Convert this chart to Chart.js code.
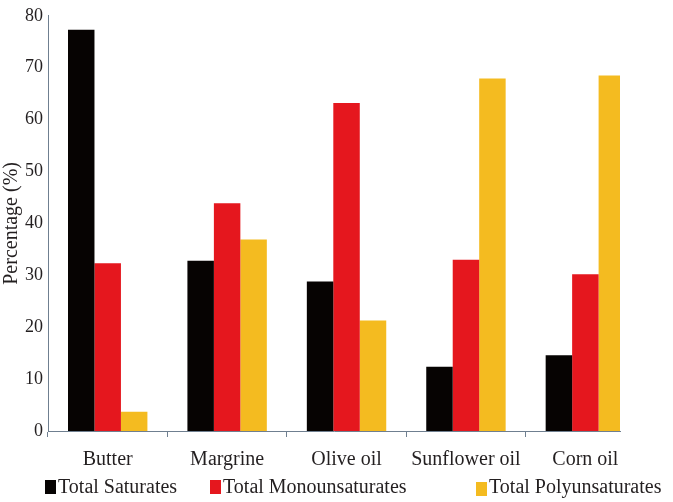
<!DOCTYPE html>
<html>
<head>
<meta charset="utf-8">
<script src="https://cdn.jsdelivr.net/npm/chart.js@4"></script>
<style>
  html, body { margin: 0; padding: 0; background: #ffffff; }
  #wrap { width: 673px; height: 502px; }
</style>
</head>
<body>
<div id="wrap"><canvas id="c" width="673" height="502"></canvas></div>
<script>
// ---- data ----
const categories = ["Butter", "Margrine", "Olive oil", "Sunflower oil", "Corn oil"];
const seriesNames = ["Total Saturates", "Total Monounsaturates", "Total Polyunsaturates"];
const saturates = [77.3, 32.8, 28.8, 12.4, 14.6];
const monounsaturates = [32.3, 43.9, 63.2, 33.0, 30.2];
const polyunsaturates = [3.7, 36.9, 21.3, 67.9, 68.5];
const yTicks = [0, 10, 20, 30, 40, 50, 60, 70, 80];
const yTitle = "Percentage (%)";

// ---- styles ----
const colors = ["#060302", "#e5171e", "#f4bb20"];
const FONT = "'Liberation Serif', 'Times New Roman', serif";
const axisColor = "#6f7f90";
const textColor = "#231f20";

const toPoints = arr => arr.map((v, i) => ({ x: i, y: v }));

const legendPlugin = {
  id: 'customLegend',
  afterDraw(chart) {
    const ctx = chart.ctx;
    const boxX = [45, 210, 476];
    const boxY = [480, 480, 482];
    ctx.save();
    ctx.font = "20px " + FONT;
    ctx.textBaseline = 'middle';
    ctx.textAlign = 'left';
    chart.data.datasets.forEach((ds, i) => {
      ctx.fillStyle = ds.backgroundColor;
      ctx.fillRect(boxX[i], boxY[i], 11, 14);
      ctx.fillStyle = textColor;
      ctx.fillText(ds.label, boxX[i] + 13, 488);
    });
    ctx.restore();
  }
};

new Chart(document.getElementById('c'), {
  type: 'bar',
  data: {
    datasets: [
      { label: seriesNames[0], data: toPoints(saturates), backgroundColor: colors[0] },
      { label: seriesNames[1], data: toPoints(monounsaturates), backgroundColor: colors[1] },
      { label: seriesNames[2], data: toPoints(polyunsaturates), backgroundColor: colors[2] }
    ]
  },
  options: {
    responsive: false,
    animation: false,
    devicePixelRatio: 1,
    layout: { padding: { top: 11, right: 53, bottom: 0, left: 0 } },
    datasets: { bar: { categoryPercentage: 0.665, barPercentage: 1.0, borderWidth: 0 } },
    plugins: {
      legend: { display: false },
      tooltip: { enabled: false }
    },
    scales: {
      x: {
        type: 'linear',
        offset: false,
        min: -0.5,
        max: 4.29,
        afterBuildTicks: s => { s.ticks = categories.map((_, i) => ({ value: i })); },
        afterFit: s => { s.height = 71; },
        grid: { display: true, drawOnChartArea: false, drawTicks: true, tickLength: 6, offset: true, color: axisColor, lineWidth: 1 },
        border: { display: true, color: axisColor, width: 1 },
        ticks: {
          autoSkip: false, maxRotation: 0, minRotation: 0, padding: 11,
          color: textColor,
          font: { family: FONT, size: 20 },
          callback: v => categories[v]
        }
      },
      y: {
        min: 0,
        max: 80,
        afterBuildTicks: s => { s.ticks = yTicks.map(v => ({ value: v })); },
        afterFit: s => { s.width = 48; },
        grid: { display: false, drawTicks: false },
        border: { display: true, color: axisColor, width: 1 },
        ticks: {
          padding: 5,
          color: textColor,
          font: { family: FONT, size: 18 }
        },
        title: {
          display: true,
          text: yTitle,
          color: textColor,
          font: { family: FONT, size: 20 },
          padding: { top: 0, bottom: 0 }
        }
      }
    }
  },
  plugins: [legendPlugin]
});
</script>
</body>
</html>
